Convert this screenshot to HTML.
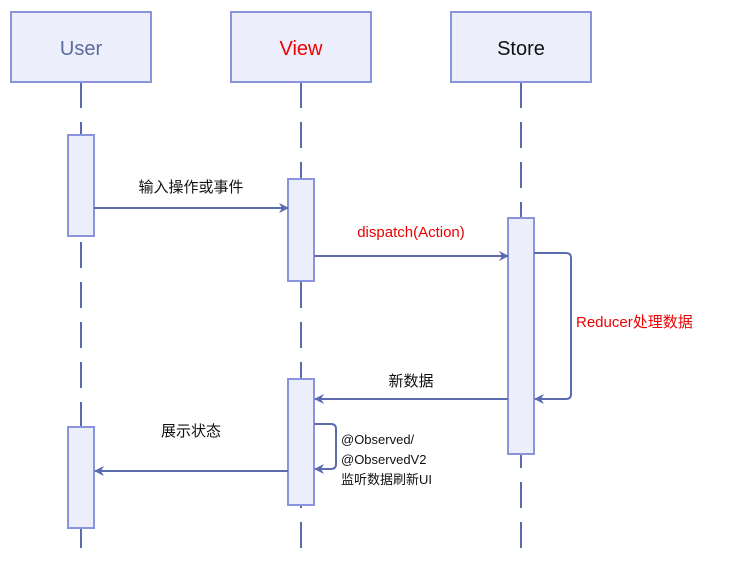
<!DOCTYPE html>
<html><head><meta charset="utf-8"><style>body{margin:0;background:#fff}</style></head><body>
<svg width="745" height="569" xmlns="http://www.w3.org/2000/svg" font-family="Liberation Sans, Noto Sans CJK SC, sans-serif">
<defs><marker id="a" markerWidth="10" markerHeight="10" refX="9" refY="5" orient="auto" markerUnits="userSpaceOnUse"><path d="M0,0 L10,5 L0,10 L3,5 z" fill="#5b6bb0"/></marker></defs>
<g stroke="#5b6bb0" stroke-width="2" stroke-dasharray="26,14">
<line x1="81" y1="82" x2="81" y2="550"/><line x1="301" y1="82" x2="301" y2="550"/><line x1="521" y1="82" x2="521" y2="550"/></g>
<g fill="#eceefb" stroke="#8a94dc" stroke-width="2">
<rect x="11" y="12" width="140" height="70"/><rect x="231" y="12" width="140" height="70"/><rect x="451" y="12" width="140" height="70"/>
<rect x="68" y="135" width="26" height="101"/><rect x="68" y="427" width="26" height="101"/>
<rect x="288" y="179" width="26" height="102"/><rect x="288" y="379" width="26" height="126"/>
<rect x="508" y="218" width="26" height="236"/></g>
<g font-size="20" text-anchor="middle"><text x="81" y="55" fill="#5b6b9a">User</text><text x="301" y="55" fill="#e00">View</text><text x="521" y="55" fill="#111">Store</text></g>
<g stroke="#5b6bb0" stroke-width="2" fill="none" marker-end="url(#a)">
<line x1="94" y1="208" x2="288" y2="208"/><line x1="314" y1="256" x2="508" y2="256"/>
<path d="M534,253 H566 Q571,253 571,258 V394 Q571,399 566,399 H535"/>
<line x1="508" y1="399" x2="315" y2="399"/>
<path d="M314,424 H331 Q336,424 336,429 V464 Q336,469 331,469 H315"/>
<line x1="288" y1="471" x2="95" y2="471"/></g>
<g font-size="15" fill="#111">
<text x="191" y="192" text-anchor="middle">输入操作或事件</text>
<text x="411" y="237" text-anchor="middle" fill="#e00">dispatch(Action)</text>
<text x="576" y="327" fill="#e00">Reducer处理数据</text>
<text x="411" y="386" text-anchor="middle">新数据</text>
<text x="191" y="436" text-anchor="middle">展示状态</text>
<g font-size="13"><text x="341" y="444">@Observed/</text><text x="341" y="464">@ObservedV2</text><text x="341" y="484">监听数据刷新UI</text></g>
</g>
</svg>
</body></html>
